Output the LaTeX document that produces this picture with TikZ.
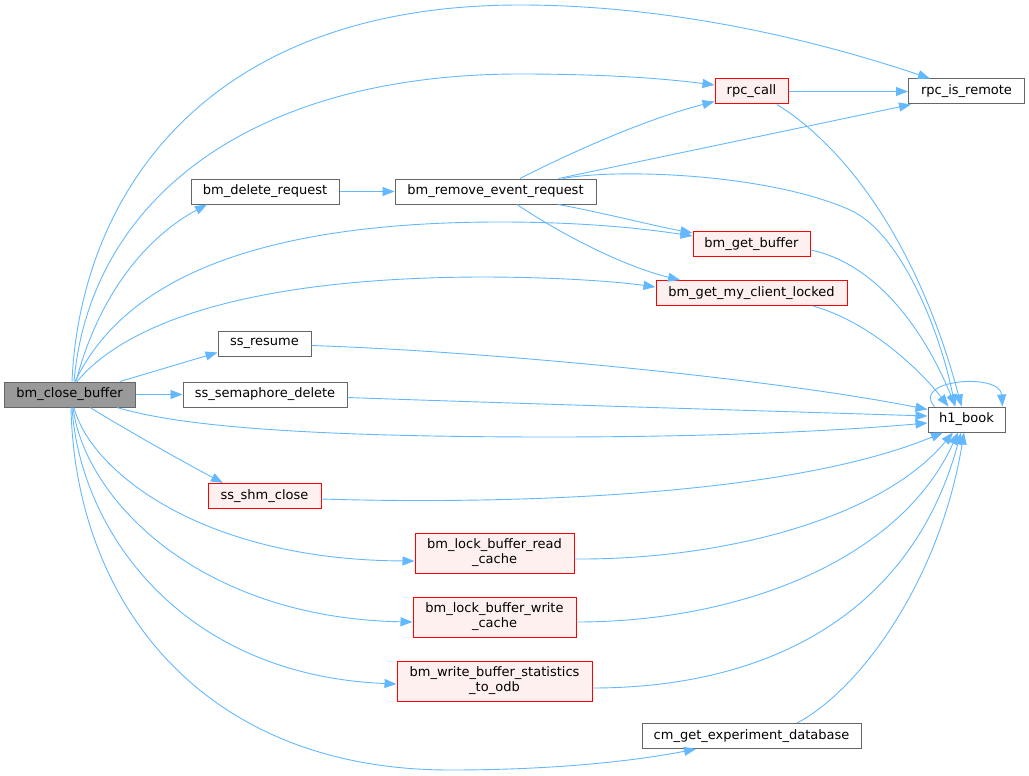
\documentclass[tikz,border=0pt]{standalone}
\usepackage{fontspec}
\setmainfont{DejaVu Sans}
\usetikzlibrary{arrows.meta}
\definecolor{edgeblue}{HTML}{63B8FF}
\definecolor{boxgray}{HTML}{666666}
\definecolor{rootgray}{HTML}{999999}
\definecolor{redfill}{HTML}{FFF0F0}
\begin{document}
\begin{tikzpicture}[x=1pt,y=-1pt,
  fn/.style={draw=boxgray,fill=white,line width=1pt,inner xsep=3pt,inner ysep=0pt,minimum height=25pt,align=center,font=\fontsize{13}{15}\selectfont},
  redfn/.style={fn,draw=red,fill=redfill},
  rootfn/.style={fn,fill=rootgray},
  call/.style={draw=edgeblue,line width=0.9pt,-{Triangle[length=12pt,width=9pt]}}]
\useasboundingbox (0,0) rectangle (1029,776);
\node [rootfn,minimum width=131pt] (close) at (69.5,394.5) {bm\_close\_buffer};
\node [fn,minimum width=148pt] (delete) at (265,191.5) {bm\_delete\_request};
\node [fn,minimum width=201pt] (remove) at (495.5,191.5) {bm\_remove\_event\_request};
\node [redfn,minimum width=73pt] (rpccall) at (751.5,91.5) {rpc\_call};
\node [fn,minimum width=116pt] (remote) at (966.5,91.5) {rpc\_is\_remote};
\node [redfn,minimum width=117pt] (getbuf) at (751.5,244) {bm\_get\_buffer};
\node [redfn,minimum width=191pt] (client) at (751.5,293) {bm\_get\_my\_client\_locked};
\node [fn,minimum width=93pt] (resume) at (264.5,343.5) {ss\_resume};
\node [fn,minimum width=164pt] (semdel) at (265,394.5) {ss\_semaphore\_delete};
\node [fn,minimum width=77pt] (hbook) at (966.5,419.5) {h1\_book};
\node [redfn,minimum width=113pt] (shm) at (264.5,496) {ss\_shm\_close};
\node [redfn,minimum width=159pt,minimum height=40pt] (rcache) at (494.5,553) {bm\_lock\_buffer\_read\\\_cache};
\node [redfn,minimum width=163pt,minimum height=40pt] (wcache) at (494.5,617) {bm\_lock\_buffer\_write\\\_cache};
\node [redfn,minimum width=195pt,minimum height=40pt] (stats) at (494.5,681) {bm\_write\_buffer\_statistics\\\_to\_odb};
\node [fn,minimum width=219pt] (expdb) at (751.5,736) {cm\_get\_experiment\_database};

\draw [call] ([xshift=2.5pt]close.north) .. controls (80,200) and (200,5) .. (520,5)
  .. controls (700,5) and (860,55) .. ([xshift=-36.5pt]remote.north);
\draw [call] ([xshift=4.5pt]close.north) .. controls (90,200) and (250,74) .. (520,74)
  .. controls (600,74) and (660,78) .. ([yshift=6.5pt]rpccall.west);
\draw [call] ([xshift=6.5pt]close.north) .. controls (100,290) and (150,235) .. ([xshift=-58pt]delete.south);
\draw [call] ([xshift=5.5pt]close.north) .. controls (110,310) and (200,222) .. (500,222)
  .. controls (580,222) and (640,228) .. ([yshift=8pt]getbuf.west);
\draw [call] ([xshift=7.5pt]close.north) .. controls (120,330) and (230,278) .. (480,277)
  .. controls (560,277) and (620,282) .. ([yshift=6pt]client.west);
\draw [call] ([xshift=50.5pt]close.north) -- ([yshift=4pt]resume.south west);
\draw [call] (close.east) -- (semdel.west);
\draw [call] ([xshift=47.5pt]close.south) .. controls (160,420) and (250,437) .. (550,437)
  .. controls (750,437) and (870,428) .. ([yshift=-3.5pt]hbook.west);
\draw [call] ([xshift=20.5pt]close.south) .. controls (130,432) and (180,460) .. ([xshift=-41.5pt]shm.north);
\draw [call] ([xshift=4.5pt]close.south) .. controls (90,470) and (200,560) .. ([yshift=-8pt]rcache.west);
\draw [call] ([xshift=3.5pt]close.south) .. controls (85,500) and (200,618) .. ([yshift=-5pt]wcache.west);
\draw [call] ([xshift=2.5pt]close.south) .. controls (80,530) and (180,675) .. ([yshift=-3pt]stats.west);
\draw [call] ([xshift=1.5pt]close.south) .. controls (75,600) and (200,770) .. (450,770)
  .. controls (560,770) and (640,760) .. ([xshift=-55.5pt]expdb.south);

\draw [call] (delete.east) -- (remove.west);
\draw [call] ([xshift=24.5pt]remove.north) .. controls (580,148) and (650,118) .. ([yshift=3pt]rpccall.south west);
\draw [call] ([xshift=63pt]remove.north) -- ([xshift=3pt]remote.south west);
\draw [call] ([xshift=67.5pt]remove.north) .. controls (620,168) and (770,174) .. (850,210)
  .. controls (900,232) and (940,330) .. ([xshift=-11.5pt]hbook.north);
\draw [call] ([xshift=62.5pt]remove.south) .. controls (600,212) and (650,225) .. ([yshift=11pt]getbuf.west);
\draw [call] ([xshift=21.5pt]remove.south) .. controls (570,240) and (630,268) .. ([xshift=-71.5pt]client.north);

\draw [call] (rpccall.east) -- (remote.west);
\draw [call] ([xshift=25.5pt]rpccall.south) .. controls (850,150) and (920,250) .. ([xshift=-5pt]hbook.north);
\draw [call] ([yshift=-6pt]getbuf.east) .. controls (870,262) and (920,320) .. ([xshift=-11pt]hbook.north);
\draw [call] ([xshift=61.5pt]client.south) .. controls (870,322) and (920,370) .. ([xshift=-18pt]hbook.north);
\draw [call] ([yshift=-2pt]resume.east) .. controls (500,352) and (780,380) .. ([yshift=-3pt]hbook.north west);
\draw [call] ([yshift=-3pt]semdel.east) .. controls (500,403) and (800,412) .. ([yshift=3.5pt]hbook.west);
\draw [call] ([yshift=-3pt]shm.east) .. controls (480,504) and (780,500) .. ([xshift=-23.5pt]hbook.south);
\draw [call] ([yshift=-6pt]rcache.east) .. controls (720,560) and (880,520) .. ([xshift=-13.5pt]hbook.south);
\draw [call] ([yshift=-5pt]wcache.east) .. controls (740,622) and (900,560) .. ([xshift=-8.5pt]hbook.south);
\draw [call] ([yshift=-7pt]stats.east) .. controls (760,688) and (910,620) .. ([xshift=-5.5pt]hbook.south);
\draw [call] ([xshift=45.5pt]expdb.north) .. controls (860,690) and (940,580) .. ([xshift=-2.5pt]hbook.south);
\draw [call] ([xshift=7pt]hbook.north west) .. controls (910,380) and (1000,372) .. ([xshift=-3pt]hbook.north east);
\end{tikzpicture}
\end{document}
